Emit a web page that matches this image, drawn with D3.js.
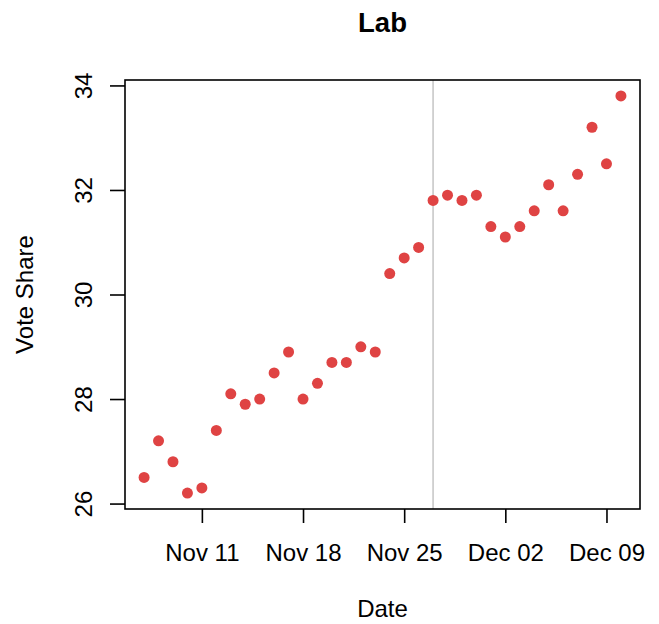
<!DOCTYPE html>
<html>
<head>
<meta charset="utf-8">
<script src="https://cdn.jsdelivr.net/npm/d3@7"></script>
<style>
  html, body { margin: 0; padding: 0; background: #fff; }
  svg { display: block; font-family: "Liberation Sans", Arial, Helvetica, sans-serif; }
</style>
</head>
<body>
<svg id="chart" width="659" height="624"></svg>
<script>
const title = "Lab";
const xLabel = "Date";
const yLabel = "Vote Share";
const startDate = "2019-11-07";
const voteShare = [26.5, 27.2, 26.8, 26.2, 26.3, 27.4, 28.1, 27.9, 28.0, 28.5, 28.9, 28.0, 28.3, 28.7, 28.7, 29.0, 28.9,
                   30.4, 30.7, 30.9, 31.8, 31.9, 31.8, 31.9, 31.3, 31.1, 31.3, 31.6, 32.1, 31.6, 32.3, 33.2, 32.5, 33.8];
const xTickDates = ["2019-11-11", "2019-11-18", "2019-11-25", "2019-12-02", "2019-12-09"];
const yTicks = [26, 28, 30, 32, 34];
const markerDate = "2019-11-27";

(function () {
const parse = d3.utcParse("%Y-%m-%d");
const t0 = parse(startDate);
const data = voteShare.map((v, i) => ({ date: d3.utcDay.offset(t0, i), value: v }));

const svg = d3.select("#chart");
const pL = 125, pR = 640, pT = 80, pB = 509;

const xExt = d3.extent(data, d => d.date);
const span = xExt[1] - xExt[0];
const x = d3.scaleUtc()
  .domain([new Date(+xExt[0] - 0.04 * span), new Date(+xExt[1] + 0.04 * span)])
  .range([pL, pR]);

const yExt = d3.extent(voteShare);
const ySpan = yExt[1] - yExt[0];
const y = d3.scaleLinear()
  .domain([yExt[0] - 0.04 * ySpan, yExt[1] + 0.04 * ySpan])
  .range([pB, pT]);

const tickFont = 24;
const ff = "Liberation Sans, Arial, sans-serif";

// marker line
svg.append("line")
  .attr("x1", x(parse(markerDate))).attr("x2", x(parse(markerDate)))
  .attr("y1", pT).attr("y2", pB)
  .attr("stroke", "#c8c8c8").attr("stroke-width", 1.6);

// points
svg.append("g").selectAll("circle").data(data).join("circle")
  .attr("cx", d => x(d.date)).attr("cy", d => y(d.value))
  .attr("r", 5.5).attr("fill", "#df4343");

// box
svg.append("rect")
  .attr("x", pL).attr("y", pT).attr("width", pR - pL).attr("height", pB - pT)
  .attr("fill", "none").attr("stroke", "#000").attr("stroke-width", 1.6);

// x axis
const xAxis = d3.axisBottom(x)
  .tickValues(xTickDates.map(parse))
  .tickFormat(d3.utcFormat("%b %d"))
  .tickSizeInner(14).tickSizeOuter(0);
const gx = svg.append("g").attr("transform", `translate(0,${pB})`).call(xAxis);
gx.select(".domain").remove();
gx.selectAll(".tick line").attr("stroke", "#000").attr("stroke-width", 1.6);
gx.selectAll(".tick text").attr("font-size", tickFont).attr("fill", "#000")
  .attr("font-family", ff)
  .attr("dy", null).attr("y", 51.5);

// y axis
const yAxis = d3.axisLeft(y)
  .tickValues(yTicks)
  .tickFormat(d3.format("d"))
  .tickSizeInner(15).tickSizeOuter(0);
const gy = svg.append("g").attr("transform", `translate(${pL},0)`).call(yAxis);
gy.select(".domain").remove();
gy.selectAll(".tick line").attr("stroke", "#000").attr("stroke-width", 1.6);
gy.selectAll(".tick text")
  .attr("font-size", tickFont).attr("fill", "#000")
  .attr("font-family", ff)
  .attr("x", null).attr("dy", null)
  .attr("text-anchor", "middle")
  .attr("transform", "translate(-33,0) rotate(-90)");

// title
svg.append("text")
  .attr("x", (pL + pR) / 2).attr("y", 32)
  .attr("text-anchor", "middle").attr("font-weight", "bold").attr("font-size", 27.5)
  .text(title);

// x label
svg.append("text")
  .attr("x", (pL + pR) / 2).attr("y", 617)
  .attr("text-anchor", "middle").attr("font-size", tickFont)
  .text(xLabel);

// y label
svg.append("text")
  .attr("transform", `translate(33,${(pT + pB) / 2}) rotate(-90)`)
  .attr("text-anchor", "middle").attr("font-size", tickFont)
  .text(yLabel);
})();
</script>
</body>
</html>
